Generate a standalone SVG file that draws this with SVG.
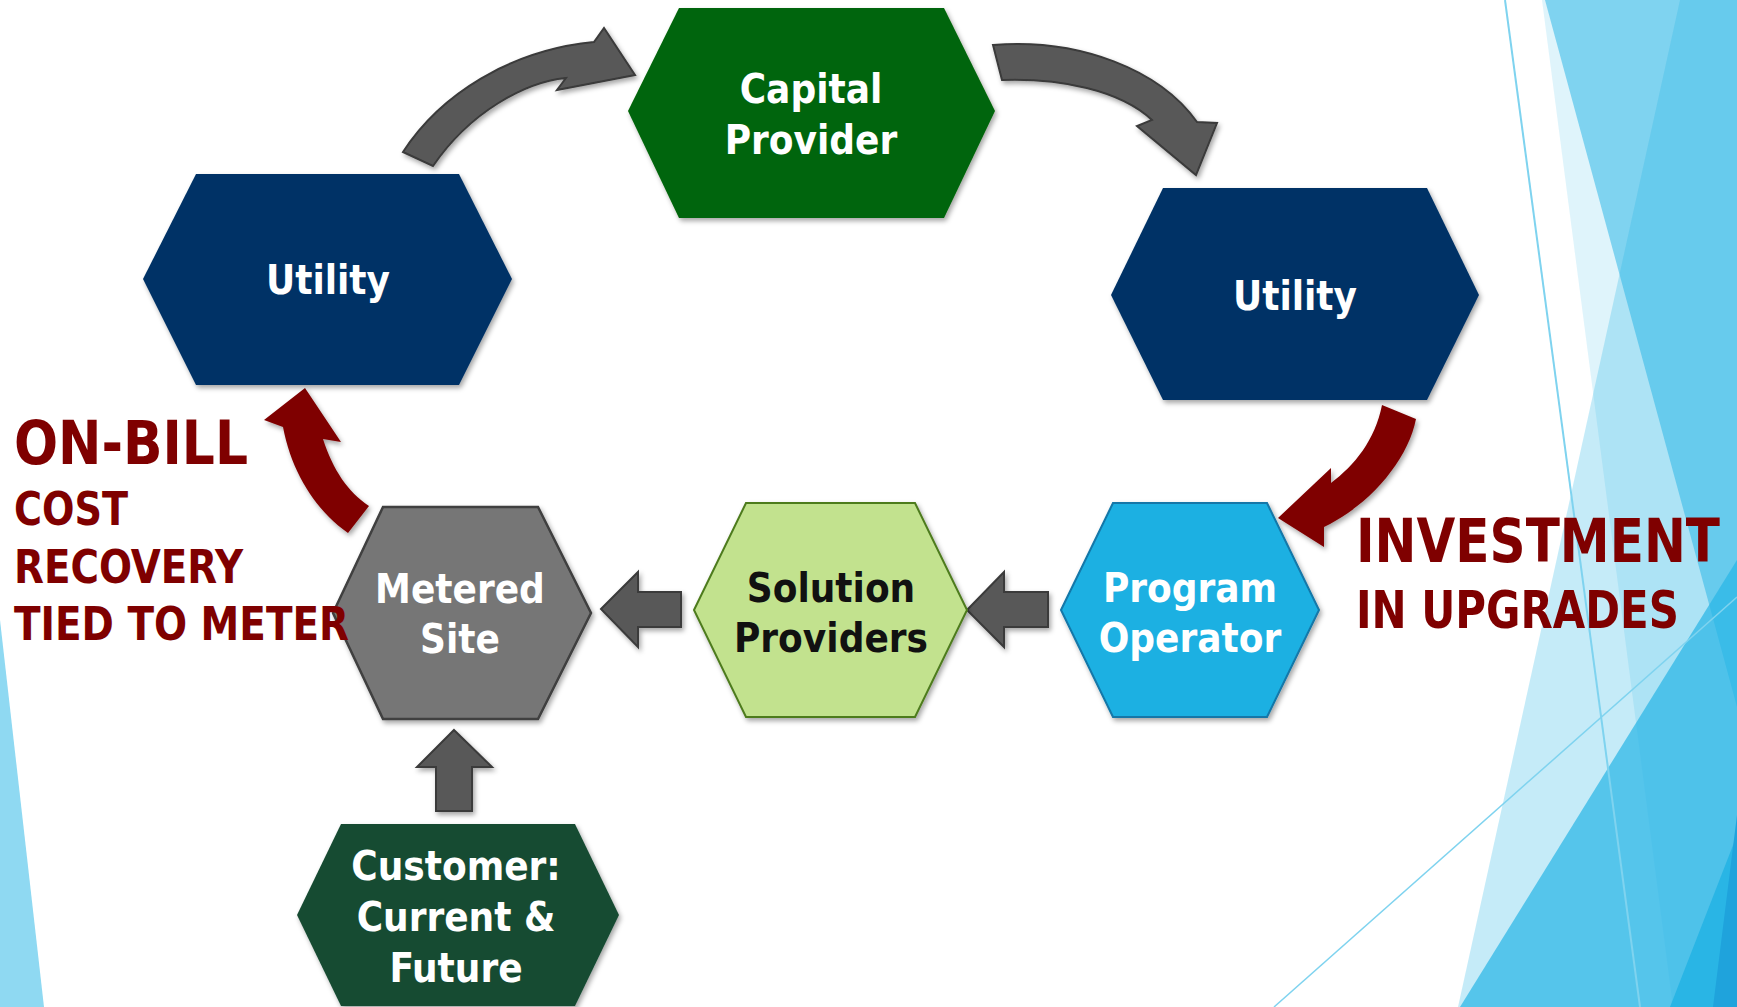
<svg xmlns="http://www.w3.org/2000/svg" width="1737" height="1007" viewBox="0 0 1737 1007">
  <defs>
    <filter id="shadow" x="-10%" y="-10%" width="125%" height="130%">
      <feDropShadow dx="2" dy="3" stdDeviation="2.5" flood-color="#000" flood-opacity="0.35"/>
    </filter>
    <style>
      .hex { filter: url(#shadow); }
      .lbl { font-family: "DejaVu Sans Condensed", "DejaVu Sans", sans-serif; font-weight: bold; font-size: 40px; text-anchor: middle; fill: #ffffff; }
      .dark { fill: #111111; }
      .red { font-family: "DejaVu Sans Condensed", "DejaVu Sans", sans-serif; font-weight: bold; fill: #7f0000; }
      .garrow { fill: #595959; stroke: #3a3a3a; stroke-width: 2; stroke-linejoin: miter; filter: url(#shadow); }
      .rarrow { fill: #7f0000; filter: url(#shadow); }
      .facet { fill: #29b6e6; }
      .thin { stroke: #7fd3ef; fill: none; }
    </style>
  </defs>

  <rect width="1737" height="1007" fill="#ffffff"/>

  <!-- theme decoration: translucent facets on the right, sliver on the left -->
  <g id="decoration">
    <polygon points="0,620 44,1007 0,1007" fill="#8fd9f2"/>
    <polygon class="facet" points="1542,0 1737,0 1737,1007 1673,1007" fill-opacity="0.15"/>
    <polygon class="facet" points="1545,0 1737,0 1737,707" fill-opacity="0.53"/>
    <polygon class="facet" points="1680,0 1737,0 1737,1007 1458,1007" fill-opacity="0.27"/>
    <polygon class="facet" points="1460,1007 1737,560 1737,1007" fill-opacity="0.72"/>
    <polygon points="1670,1007 1737,835 1737,1007" fill="#29b5e5"/>
    <polygon points="1713,1007 1737,815 1737,1007" fill="#1fa3dc"/>
    <line class="thin" x1="1505" y1="0" x2="1640" y2="1007" stroke-width="2"/>
    <line class="thin" x1="1274" y1="1007" x2="1737" y2="597" stroke-width="1.5"/>
  </g>

  <!-- connectors -->
  <g id="connectors">
    <path id="arrow-utility-capital" class="garrow" d="M403,152 C440,95 510,50 594,42 L604,28 L635,75 L557,90 L566,78 C525,82 470,112 433,166 Z"/>
    <path id="arrow-capital-utility" class="garrow" d="M993,45 C1080,38 1160,70 1197,122 L1217,123 L1196,175 L1137,126 L1152,120 C1120,90 1060,78 1002,80 Z"/>
    <path id="arrow-utility-operator" class="rarrow" d="M1382,405 L1416,419 C1408,460 1370,505 1324,527 L1324,547 L1278,518 L1331,468 L1331,483 C1355,465 1375,440 1382,405 Z"/>
    <polygon id="arrow-operator-solution" class="garrow" points="967,610 1004,572 1004,592 1048,592 1048,627 1004,627 1004,647"/>
    <polygon id="arrow-solution-site" class="garrow" points="601,609 638,572 638,592 681,592 681,627 638,627 638,647"/>
    <polygon id="arrow-customer-site" class="garrow" points="454,730 492,767 472,767 472,811 436,811 436,767 417,767"/>
    <path id="arrow-site-utility" class="rarrow" d="M283,427 L264,420 L305,388 L341,442 L323,439 C333,470 348,492 369,506 L348,533 C318,512 292,475 283,427 Z"/>
  </g>

  <!-- nodes -->
  <g id="capital-provider">
    <polygon class="hex" points="628,111 679,8 944,8 995,111 944,218 679,218" fill="#066508"/>
    <text class="lbl" x="811" y="103">Capital</text>
    <text class="lbl" x="811" y="154">Provider</text>
  </g>

  <g id="utility-left">
    <polygon class="hex" points="143,279 196,174 459,174 512,279 459,385 196,385" fill="#023366"/>
    <text class="lbl" x="328" y="294">Utility</text>
  </g>

  <g id="utility-right">
    <polygon class="hex" points="1111,295 1163,188 1427,188 1479,295 1427,400 1163,400" fill="#023366"/>
    <text class="lbl" x="1295" y="310">Utility</text>
  </g>

  <g id="metered-site">
    <polygon class="hex" points="333,613 383,507 538,507 591,613 538,719 383,719" fill="#767676" stroke="#3f3f3f" stroke-width="2.5"/>
    <text class="lbl" x="460" y="603">Metered</text>
    <text class="lbl" x="460" y="653">Site</text>
  </g>

  <g id="solution-providers">
    <polygon class="hex" points="694,610 746,503 915,503 967,610 915,717 746,717" fill="#c2e28e" stroke="#4e7b1f" stroke-width="2"/>
    <text class="lbl dark" x="831" y="602">Solution</text>
    <text class="lbl dark" x="831" y="652">Providers</text>
  </g>

  <g id="program-operator">
    <polygon class="hex" points="1061,610 1113,503 1267,503 1319,610 1267,717 1113,717" fill="#1bb0e2" stroke="#1277a8" stroke-width="2"/>
    <text class="lbl" x="1190" y="602">Program</text>
    <text class="lbl" x="1190" y="652">Operator</text>
  </g>

  <g id="customer">
    <polygon class="hex" points="297,915 341,824 575,824 619,915 575,1006 341,1006" fill="#184b33"/>
    <text class="lbl" x="456" y="880">Customer:</text>
    <text class="lbl" x="456" y="931">Current &amp;</text>
    <text class="lbl" x="456" y="982">Future</text>
  </g>

  <!-- red annotations -->
  <g id="on-bill-label">
    <text class="red" x="14" y="464" font-size="60" textLength="234" lengthAdjust="spacingAndGlyphs">ON-BILL</text>
    <text class="red" x="14" y="525" font-size="46" textLength="114" lengthAdjust="spacingAndGlyphs">COST</text>
    <text class="red" x="14" y="583" font-size="46" textLength="229" lengthAdjust="spacingAndGlyphs">RECOVERY</text>
    <text class="red" x="14" y="640" font-size="46" textLength="335" lengthAdjust="spacingAndGlyphs">TIED TO METER</text>
  </g>

  <g id="investment-label">
    <text class="red" x="1356" y="562" font-size="60" textLength="364" lengthAdjust="spacingAndGlyphs">INVESTMENT</text>
    <text class="red" x="1356" y="628" font-size="52" textLength="323" lengthAdjust="spacingAndGlyphs">IN UPGRADES</text>
  </g>
</svg>
